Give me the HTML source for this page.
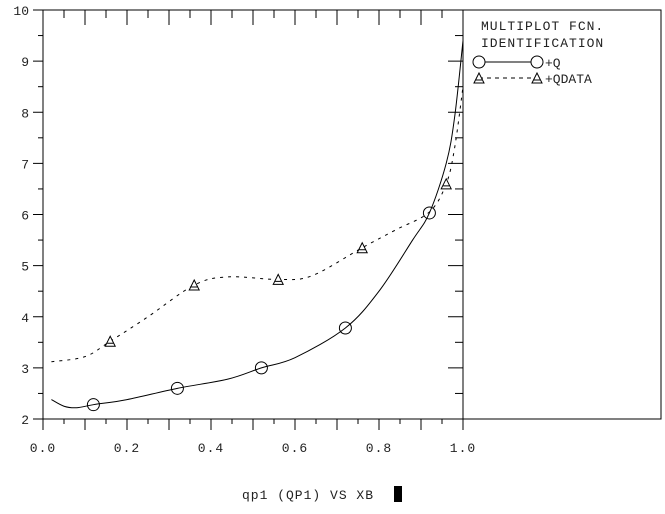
<!DOCTYPE html>
<html><head><meta charset="utf-8"><style>
body{margin:0;background:#fff}
svg text{font-family:"Liberation Mono","DejaVu Sans Mono",monospace;fill:#222;font-size:13px}
</style></head><body>
<svg id="chart" width="665" height="509" xmlns="http://www.w3.org/2000/svg">
<rect x="43" y="10" width="420" height="409" fill="none" stroke="#000"/>
<rect x="463" y="10" width="198" height="409" fill="none" stroke="#000"/>
<g id="ticks"></g>
<g id="marks"></g>
<text x="481" y="30" letter-spacing="1">MULTIPLOT FCN.</text>
<text x="481" y="47" letter-spacing="1">IDENTIFICATION</text>
<g>
<line x1="479" y1="62" x2="537" y2="62" stroke="#000"/>
<circle cx="479" cy="62" r="6" fill="#fff" stroke="#000"/>
<circle cx="537" cy="62" r="6" fill="#fff" stroke="#000"/>
<text x="545" y="67">+Q</text></g>
<g>
<line x1="479" y1="78" x2="537" y2="78" stroke="#000" stroke-dasharray="4,4"/>
<path d="M474,83 L479,73 L484,83 Z M476,80 L482,80" fill="#fff" stroke="#000"/>
<path d="M532,83 L537,73 L542,83 Z M534,80 L540,80" fill="#fff" stroke="#000"/>
<text x="545" y="83">+QDATA</text></g>
<text x="242" y="499" letter-spacing="1">qp1 (QP1) VS XB</text>
<rect x="394" y="486" width="8" height="16" fill="#000"/>
</svg>
<script>
const qX=[0.02,0.05,0.08,0.12,0.2,0.32,0.44,0.52,0.6,0.72,0.8,0.88,0.92,0.96,0.98,1.0];
const qY=[2.38,2.25,2.22,2.28,2.38,2.6,2.78,3.0,3.2,3.78,4.5,5.5,6.03,7.0,7.9,9.4];
const qMarkX=[0.12,0.32,0.52,0.72,0.92];
const qMarkY=[2.28,2.6,3.0,3.78,6.03];
const dX=[0.02,0.1,0.16,0.25,0.36,0.44,0.56,0.64,0.76,0.84,0.92,0.96,0.98,1.0];
const dY=[3.12,3.22,3.52,4.0,4.62,4.78,4.73,4.8,5.35,5.7,6.05,6.6,7.3,8.5];
const dMarkX=[0.16,0.36,0.56,0.76,0.96];
const dMarkY=[3.52,4.62,4.73,5.35,6.6];
const xTicks=["0.0","0.2","0.4","0.6","0.8","1.0"];
const yTicks=["2","3","4","5","6","7","8","9","10"];
const NS="http://www.w3.org/2000/svg";
const sx=v=>43+v*420, sy=v=>419-(v-2)*51.125;
const T=document.getElementById('ticks'), M=document.getElementById('marks'), S=document.getElementById('chart');
function mk(tag,a,p){const e=document.createElementNS(NS,tag);for(const k in a)e.setAttribute(k,a[k]);(p||M).appendChild(e);return e;}
for(let i=0;i<=20;i++){const x=sx(i*0.05),big=i%2==0;
 const l1=mk('line',{x1:x,y1:419,x2:x,y2:big?430:424,stroke:'#000'},T);
 
 
 if(i>0&&i<20){const l2=mk('line',{x1:x,y1:10,x2:x,y2:big?25:18,stroke:'#000'},T);
 
 }}
for(let i=0;i<=16;i++){const y=sy(2+i*0.5),big=i%2==0;
 const l1=mk('line',{x1:43,y1:y,x2:big?33:38,y2:y,stroke:'#000'},T);
 
 
 const l2=mk('line',{x1:463,y1:y,x2:big?448:455,y2:y,stroke:'#000'},T);
 
 }
xTicks.forEach(t=>{const e=mk('text',{x:sx(parseFloat(t)),y:452,'text-anchor':'middle','letter-spacing':'1'},T);e.textContent=t;
 
 });
yTicks.forEach(t=>{const e=mk('text',{x:29,y:sy(parseFloat(t))+5,'text-anchor':'end'},T);e.textContent=t;
 
 });
function smooth(xs,ys){const p=xs.map((x,i)=>[sx(x),sy(ys[i])]);let d='M'+p[0];
 for(let i=0;i<p.length-1;i++){const p0=p[i-1]||p[i],p1=p[i],p2=p[i+1],p3=p[i+2]||p2;
  d+=` C${p1[0]+(p2[0]-p0[0])/6},${p1[1]+(p2[1]-p0[1])/6} ${p2[0]-(p3[0]-p1[0])/6},${p2[1]-(p3[1]-p1[1])/6} ${p2[0]},${p2[1]}`;}
 return d;}
const ql=mk('path',{d:smooth(qX,qY),fill:'none',stroke:'#000'});


const dl=mk('path',{d:smooth(dX,dY),fill:'none',stroke:'#000','stroke-dasharray':'3,5'});


qMarkX.forEach((x,i)=>{const c=mk('circle',{cx:sx(x),cy:sy(qMarkY[i]),r:6,fill:'none',stroke:'#000'});
 
 });
dMarkX.forEach((x,i)=>{const X=sx(x),Y=sy(dMarkY[i]);
 const t=mk('path',{d:`M${X-5},${Y+5} L${X},${Y-5} L${X+5},${Y+5} Z M${X-3},${Y+2} L${X+3},${Y+2}`,fill:'#fff',stroke:'#000'});
 
 });
</script>
</body></html>
